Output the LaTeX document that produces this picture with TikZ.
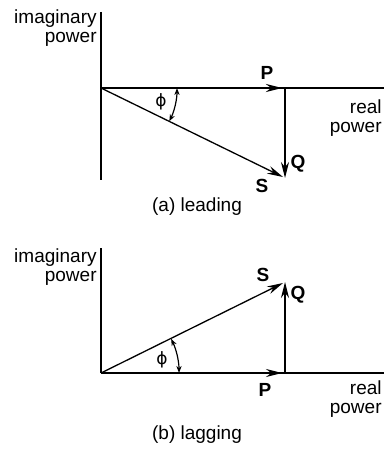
\documentclass[tikz,border=0pt]{standalone}
\usepackage{fontspec}
\setmainfont{Liberation Sans}
\newfontfamily\greekfont{DejaVu Sans}
\usetikzlibrary{arrows.meta}

\begin{document}
\begin{tikzpicture}[
    x=0.5pt, y=-0.5pt,
    >={Stealth[length=8pt,width=4pt]},
    axis/.style={line width=0.75pt},
    vec/.style={->, line width=0.65pt},
    pvec/.style={->, line width=1.3pt},
    anglearc/.style={<->, >={Stealth[length=3.5pt,width=2.6pt]}, line width=0.6pt},
    lbl/.style={font=\fontsize{9.5}{9.5}\selectfont, inner sep=0pt, align=center},
    vlbl/.style={lbl, font=\fontsize{9.5}{9.5}\selectfont\bfseries},
    philbl/.style={lbl, font=\fontsize{8.5}{8.5}\selectfont\greekfont},
]
\useasboundingbox (0,0) rectangle (384,449);

% ── (a) leading ──────────────────────────────────────────────
\coordinate (aO)   at (101,88);
\coordinate (aTop) at (101,12);
\coordinate (aBot) at (101,180);
\coordinate (aEnd) at (384,88);
\coordinate (aP)   at (282,88);
\coordinate (aC)   at (285,88);
\coordinate (aQ)   at (285,178);
\coordinate (aS)   at (283,177);

\draw[axis] (aTop) -- (aBot);
\draw[axis] (aO) -- (aEnd);
\draw[pvec] (aO) -- (aP);
\draw[vec]  (aC) -- (aQ);
\draw[vec]  (aO) -- (aS);
\draw[anglearc] ([shift={(0:76)}]aO) arc[start angle=0, end angle=26, radius=76];

\node[lbl, anchor=east, align=right] (aImag) at (97,28) {imaginary\\power};
\node[lbl, anchor=east, align=right] (aReal) at (382,118) {real\\power};
\node[vlbl]   (aPl)  at (267,73)  {P};
\node[vlbl]   (aQl)  at (298,164) {Q};
\node[vlbl]   (aSl)  at (262,186) {S};
\node[philbl] (aPhi) at (161,102) {ϕ};
\node[lbl]    (aCap) at (197,207) {(a) leading};

% ── (b) lagging ──────────────────────────────────────────────
\coordinate (bO)   at (101,373);
\coordinate (bTop) at (101,248);
\coordinate (bEnd) at (384,373);
\coordinate (bP)   at (282,373);
\coordinate (bC)   at (285,373);
\coordinate (bQ)   at (285,282);
\coordinate (bS)   at (283,283);

\draw[axis] (bTop) -- (bO);
\draw[axis] (bO) -- (bEnd);
\draw[vec]  (bO) -- (bP);
\draw[vec]  (bC) -- (bQ);
\draw[vec]  (bO) -- (bS);
\draw[anglearc] ([shift={(0:78)}]bO) arc[start angle=0, end angle=-26, radius=78];

\node[lbl, anchor=east, align=right] (bImag) at (97,267) {imaginary\\power};
\node[lbl, anchor=east, align=right] (bReal) at (382,399) {real\\power};
\node[vlbl]   (bPl)  at (265,390) {P};
\node[vlbl]   (bQl)  at (298,295) {Q};
\node[vlbl]   (bSl)  at (263,275) {S};
\node[philbl] (bPhi) at (162,360) {ϕ};
\node[lbl]    (bCap) at (197,435) {(b) lagging};

\end{tikzpicture}
\end{document}
